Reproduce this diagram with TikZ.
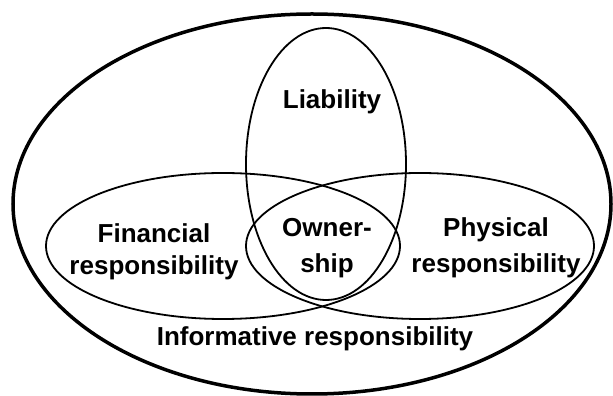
\documentclass[tikz,border=0pt]{standalone}
\usepackage{fontspec}
\setmainfont{Liberation Sans}
\begin{document}
\begin{tikzpicture}[x=1pt,y=1pt]
\tikzstyle{every node}=[align=center,anchor=base,font=\fontsize{26}{34}\selectfont\bfseries]
\tikzstyle{set}=[line width=1.8pt]
%
\useasboundingbox (0,0) rectangle (613,396);
\draw[line width=3.5pt] (312,192) ellipse [x radius=299, y radius=190];
\draw[set] (326,232) ellipse [x radius=80, y radius=136];
\draw[set] (223,150) ellipse [x radius=177, y radius=73];
\draw[set] (420,150) ellipse [x radius=174, y radius=73];
%
\node at (332,287) (L) {Liability};
\node[font=\fontsize{26}{32}\selectfont\bfseries] at (154,121) (F) {Financial\\responsibility};
\node[font=\fontsize{26}{36}\selectfont\bfseries] at (327,123) (O) {Owner-\\ship};
\node[font=\fontsize{26}{36}\selectfont\bfseries] at (496,123) (P) {Physical\\responsibility};
\node at (315,50) (I) {Informative responsibility};
\end{tikzpicture}
\end{document}
